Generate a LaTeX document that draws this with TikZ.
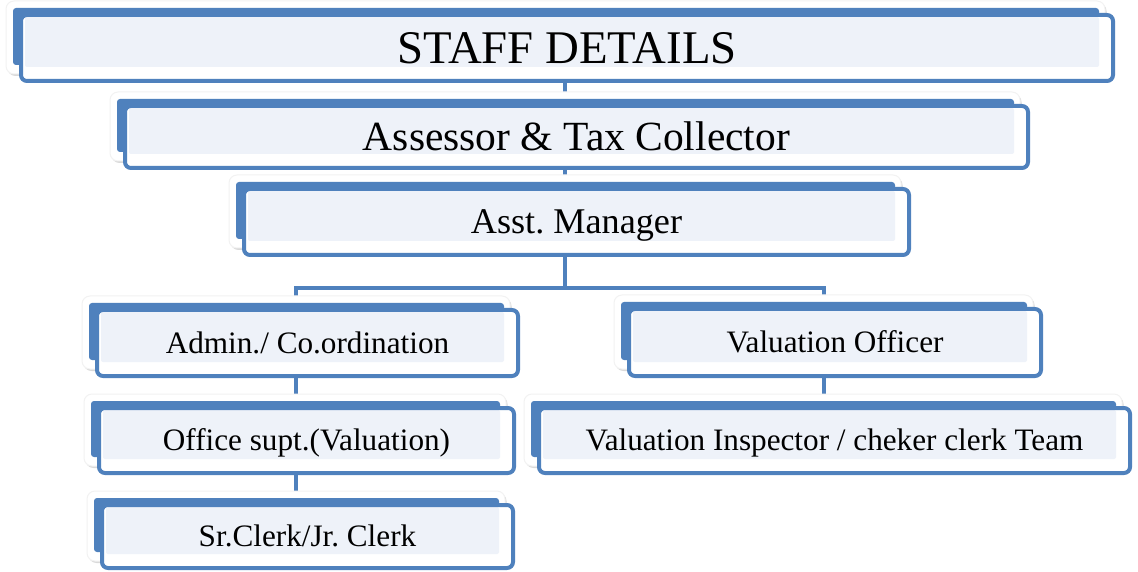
\documentclass[tikz,border=0pt]{standalone}
\usepackage{fontspec}
\setmainfont{Liberation Serif}
\usetikzlibrary{backgrounds,shadows}
\definecolor{boxblue}{HTML}{4F81BD}
\definecolor{boxfill}{HTML}{EEF2F9}

\begin{document}
\begin{tikzpicture}[x=1pt, y=1pt,
  staffbox/.style={rectangle, rounded corners=6pt, draw=boxblue, line width=4pt, fill=white,
    inner sep=0pt,
    path picture={\fill[boxfill, rounded corners=2pt]
      ([shift={(4pt,-2pt)}]path picture bounding box.north west) rectangle
      ([shift={(-14pt,14pt)}]path picture bounding box.south east);}},
  fsize/.style={font=\fontsize{#1}{#1}\selectfont\frenchspacing, text height={0.66*#1pt}, text depth=0pt},
  whiteback/.style={fill=white, rounded corners=8pt, draw=black!5, line width=1pt,
    drop shadow={shadow xshift=1.5pt, shadow yshift=-2pt, fill=black, opacity=0.15}},
  blueback/.style={fill=boxblue, rounded corners=3pt},
  link/.style={draw=boxblue, line width=4pt}]
  \useasboundingbox (0,0) rectangle (1138,571);

  % Nodes
  \node[staffbox, fsize=46.8, minimum width=1092pt, minimum height=66pt] (staff) at (567,523) {STAFF DETAILS};
  \node[staffbox, fsize=41.5, minimum width=903pt, minimum height=62pt] (assessor) at (576.5,434) {Assessor \& Tax Collector};
  \node[staffbox, fsize=36.2, minimum width=665pt, minimum height=66pt] (mgr) at (576.5,349) {Asst. Manager};
  \node[staffbox, fsize=31.2, minimum width=421pt, minimum height=66pt] (admin) at (307.5,228) {Admin./ Co.ordination};
  \node[staffbox, fsize=31.2, minimum width=415pt, minimum height=65pt] (office) at (306.5,130.5) {Office supt.(Valuation)};
  \node[staffbox, fsize=31.2, minimum width=411pt, minimum height=63pt] (clerk) at (307.5,34.5) {Sr.Clerk/Jr. Clerk};
  \node[staffbox, fsize=31.2, minimum width=412pt, minimum height=67pt] (valoff) at (835,228.5) {Valuation Officer};
  \node[staffbox, fsize=31.2, minimum width=591pt, minimum height=65pt] (valinsp) at (834.5,130.5) {Valuation Inspector / cheker clerk Team};

  \begin{pgfonlayer}{background}
    % Paths
    \coordinate (fork) at (565,283);
    \draw[link] ([xshift=-2pt]staff.south) -- ([xshift=-2pt]staff.south |- mgr.north);
    \draw[link] (fork |- mgr.south) -- (fork);
    \draw[link] ([xshift=-12pt]admin.north) |- (fork) -| ([xshift=-11pt]valoff.north);
    \draw[link] ([xshift=-12pt]admin.south) -- ([xshift=-12pt]admin.south |- office.north);
    \draw[link] ([xshift=-11pt]office.south) -- ([xshift=-11pt]office.south |- clerk.north);
    \draw[link] ([xshift=-11pt]valoff.south) -- ([xshift=-11pt]valoff.south |- valinsp.north);

    % Back layers
    \foreach \n in {staff,assessor,mgr,admin,office,clerk,valoff,valinsp} {
      \path[whiteback] ([shift={(-13pt,12pt)}]\n.north west) rectangle ([shift={(-10pt,9pt)}]\n.south east);
      \fill[blueback] ([shift={(-6pt,5pt)}]\n.north west) rectangle ([shift={(-16pt,18pt)}]\n.south east);
    }
  \end{pgfonlayer}
\end{tikzpicture}
\end{document}
